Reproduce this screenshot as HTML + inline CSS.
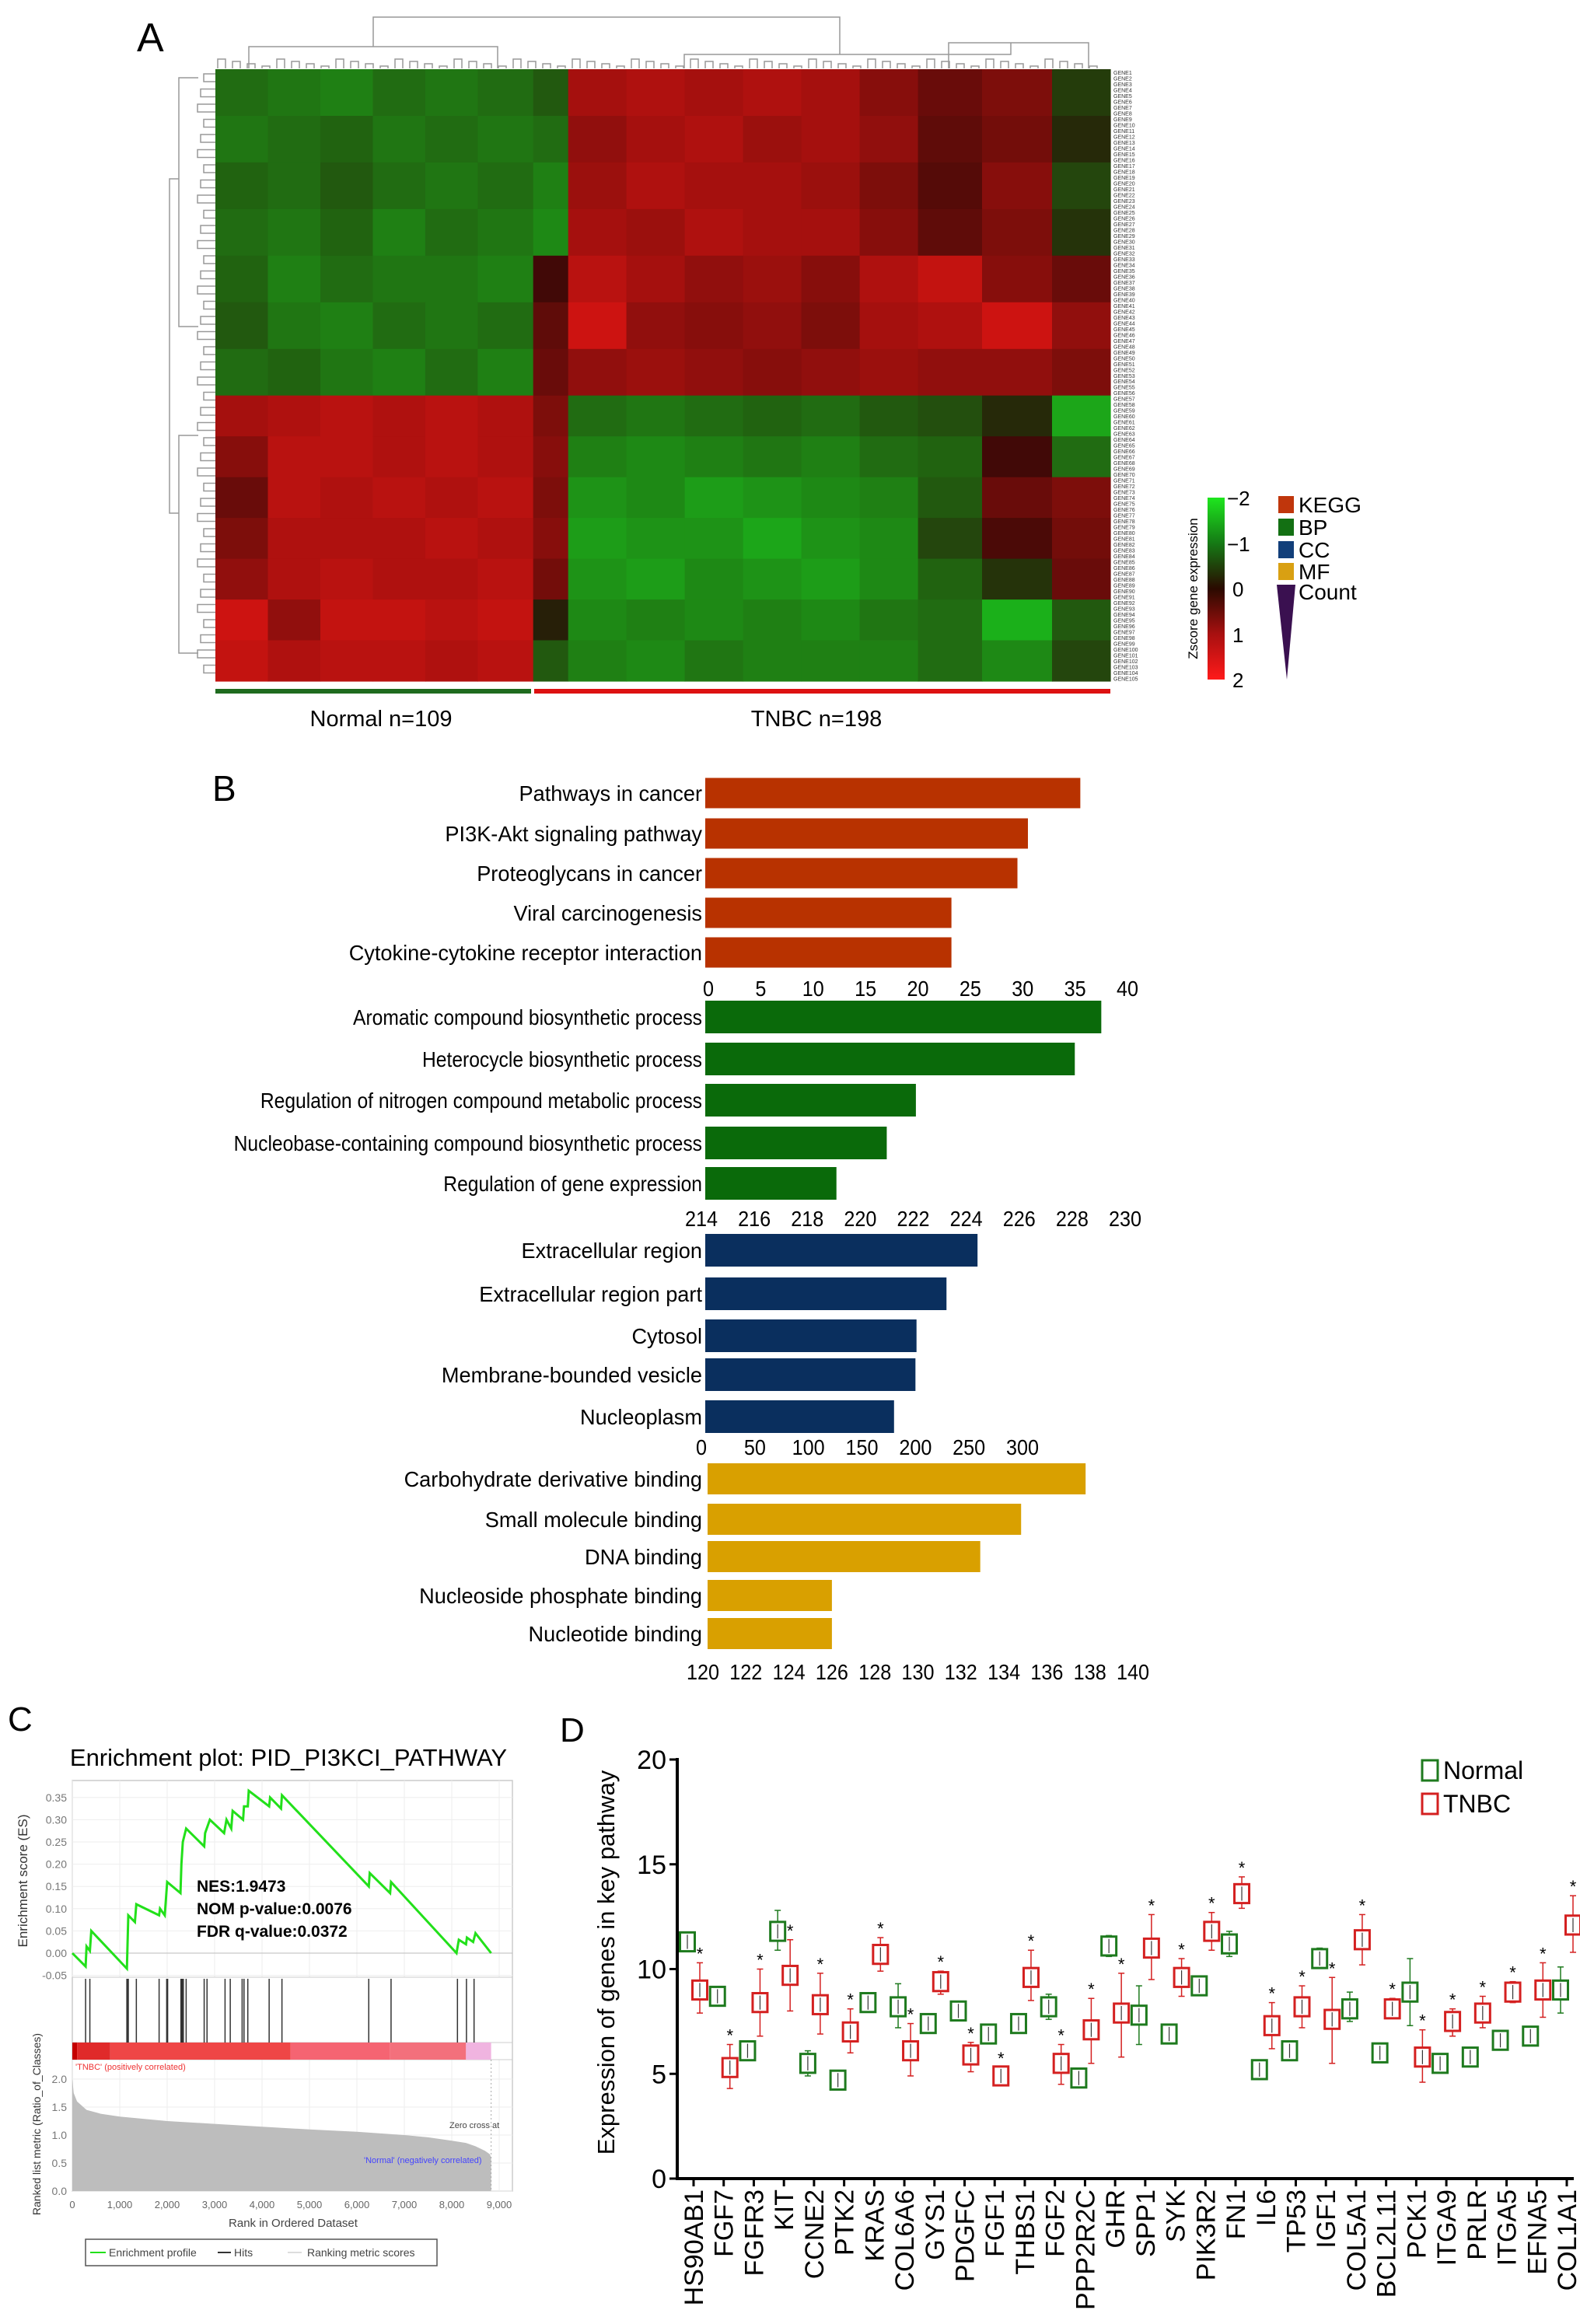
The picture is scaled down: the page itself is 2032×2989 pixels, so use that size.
<!DOCTYPE html>
<html><head><meta charset="utf-8"><title>TNBC figure</title>
<style>
html,body{margin:0;padding:0;background:#fff;}
svg{display:block;font-family:"Liberation Sans",Arial,sans-serif;}
</style></head>
<body>
<svg id="fig" width="2032" height="2989" viewBox="0 0 2032 2989" xmlns="http://www.w3.org/2000/svg">
<rect x="0" y="0" width="2032" height="2989" fill="#fff"/>
<g id="panelA">
  <text x="176" y="66" font-size="52">A</text>
  <g id="dendroTop" stroke="#999" stroke-width="1.5" fill="none"></g>
  <g id="dendroLeft" stroke="#999" stroke-width="1.5" fill="none"></g>
  <g id="heat"></g>
  <g id="geneLbl" font-size="7" fill="#333"></g>
  <rect x="277" y="886" width="406" height="6" fill="#1f6b1f"/>
  <rect x="687" y="886" width="741" height="6" fill="#d11"/>
  <text x="490" y="934" font-size="29" text-anchor="middle">Normal n=109</text>
  <text x="1050" y="934" font-size="29" text-anchor="middle">TNBC n=198</text>
  <defs>
    <linearGradient id="zgrad" x1="0" y1="0" x2="0" y2="1">
      <stop offset="0" stop-color="#1ee61e"/><stop offset="0.25" stop-color="#157a15"/>
      <stop offset="0.5" stop-color="#2a0a00"/><stop offset="0.75" stop-color="#a81010"/>
      <stop offset="1" stop-color="#ff1a1a"/>
    </linearGradient>
  </defs>
  <rect x="1553" y="640" width="22" height="234" fill="url(#zgrad)"/>
  <g font-size="26">
    <text x="1578" y="650">−2</text><text x="1578" y="709">−1</text><text x="1585" y="767">0</text><text x="1585" y="826">1</text><text x="1585" y="884">2</text>
  </g>
  <text transform="translate(1540,757) rotate(-90)" font-size="17" text-anchor="middle">Zscore gene expression</text>
  <g font-size="28">
    <rect x="1644" y="638" width="20" height="22" fill="#c0360c"/><text x="1670" y="659">KEGG</text>
    <rect x="1644" y="667" width="20" height="22" fill="#137013"/><text x="1670" y="688">BP</text>
    <rect x="1644" y="696" width="20" height="22" fill="#123f7a"/><text x="1670" y="717">CC</text>
    <rect x="1644" y="724" width="20" height="22" fill="#d9a012"/><text x="1670" y="745">MF</text>
    <polygon points="1642,752 1666,752 1655,874" fill="#3a1050"/><text x="1670" y="771">Count</text>
  </g>
</g>
<g id="panelB">
  <text x="273" y="1030" font-size="46">B</text>
</g>
<g id="panelC">
  <text x="10" y="2226" font-size="44">C</text>
  <text x="371" y="2271" font-size="31" text-anchor="middle">Enrichment plot: PID_PI3KCI_PATHWAY</text>
</g>
<g id="panelD">
  <text x="720" y="2240" font-size="44">D</text>
</g>
</svg>
<script>
var NS="http://www.w3.org/2000/svg";
function mk(tag,attrs,parent){var e=document.createElementNS(NS,tag);for(var k in attrs)e.setAttribute(k,attrs[k]);parent.appendChild(e);return e;}

var colGroupSizes=[18,18,18,18,18,19,12,20,20,20,20,20,20,22,24,20];
var rowGroupSizes=[8,8,8,8,8,8,8,7,7,7,7,7,7,7];
var zMatrix=[
[-1.0,-1.1,-1.2,-1.0,-1.1,-1.0,-0.8,1.2,1.3,1.2,1.3,1.2,0.9,0.6,0.8,-0.5],
[-1.1,-1.0,-0.9,-1.1,-1.0,-1.1,-1.0,1.0,1.2,1.3,1.1,1.2,1.0,0.5,0.7,-0.3],
[-0.9,-1.0,-0.8,-1.0,-1.1,-1.0,-1.2,1.1,1.3,1.2,1.2,1.1,0.8,0.4,0.9,-0.6],
[-1.0,-1.1,-0.9,-1.2,-1.0,-1.1,-1.3,1.2,1.1,1.3,1.2,1.2,0.9,0.5,0.8,-0.4],
[-0.9,-1.2,-1.0,-1.1,-1.1,-1.2,0.2,1.4,1.2,1.0,1.1,0.9,1.3,1.5,0.9,0.6],
[-0.8,-1.1,-1.2,-1.0,-1.1,-1.0,0.5,1.6,1.0,0.9,1.0,0.8,1.2,1.3,1.6,1.0],
[-1.0,-0.9,-1.1,-1.2,-1.0,-1.2,0.6,1.0,1.1,1.0,0.9,1.0,1.1,1.0,1.0,0.8],
[1.2,1.3,1.4,1.3,1.4,1.3,0.8,-1.0,-1.1,-1.0,-0.9,-1.0,-0.8,-0.7,-0.3,-1.6],
[0.9,1.4,1.4,1.3,1.4,1.3,0.9,-1.2,-1.3,-1.2,-1.1,-1.2,-1.0,-0.9,0.2,-1.0],
[0.6,1.4,1.3,1.4,1.3,1.4,0.8,-1.4,-1.3,-1.5,-1.4,-1.3,-1.2,-0.8,0.6,0.8],
[0.8,1.3,1.3,1.3,1.4,1.3,0.9,-1.5,-1.4,-1.4,-1.6,-1.4,-1.3,-0.6,0.3,0.7],
[1.0,1.3,1.4,1.3,1.3,1.4,0.7,-1.4,-1.5,-1.3,-1.4,-1.5,-1.3,-0.9,-0.4,0.6],
[1.6,1.0,1.5,1.5,1.4,1.5,-0.2,-1.3,-1.2,-1.3,-1.2,-1.3,-1.1,-1.0,-1.7,-0.8],
[1.5,1.3,1.4,1.4,1.3,1.4,-0.8,-1.2,-1.3,-1.1,-1.2,-1.2,-1.2,-1.0,-1.3,-0.6]
];
var keggTerms=["Pathways in cancer","PI3K-Akt signaling pathway","Proteoglycans in cancer","Viral carcinogenesis","Cytokine-cytokine receptor interaction"];
var keggCounts=[35.5,30.5,29.5,23.2,23.2];
var keggTicks=[0,5,10,15,20,25,30,35,40];
var bpTerms=["Aromatic compound biosynthetic process","Heterocycle biosynthetic process","Regulation of nitrogen compound metabolic process","Nucleobase-containing compound biosynthetic process","Regulation of gene expression"];
var bpCounts=[229.1,228.1,222.1,221.0,219.1];
var bpTicks=[214,216,218,220,222,224,226,228,230];
var ccTerms=["Extracellular region","Extracellular region part","Cytosol","Membrane-bounded vesicle","Nucleoplasm"];
var ccCounts=[258,229,201,200,180];
var ccTicks=[0,50,100,150,200,250,300];
var mfTerms=["Carbohydrate derivative binding","Small molecule binding","DNA binding","Nucleoside phosphate binding","Nucleotide binding"];
var mfCounts=[137.8,134.8,132.9,126.0,126.0];
var mfTicks=[120,122,124,126,128,130,132,134,136,138,140];
var esRanks=[0,280,300,370,400,1150,1180,1320,1350,1830,1850,1950,2000,2280,2300,2330,2400,2780,2800,2900,3200,3250,3350,3380,3600,3620,3700,3720,4150,4170,4400,4420,6250,6270,6700,6720,8100,8150,8300,8320,8450,8500,8830];
var esValues=[0,-0.03,0.015,0.005,0.05,-0.035,0.085,0.07,0.11,0.085,0.1,0.085,0.16,0.135,0.2,0.25,0.28,0.24,0.27,0.3,0.27,0.3,0.28,0.32,0.3,0.33,0.33,0.365,0.33,0.35,0.325,0.355,0.15,0.18,0.135,0.16,0.0,0.03,0.02,0.035,0.025,0.045,0.0];
var hitRanks=[280,370,1150,1170,1180,1350,1830,1990,2010,2290,2300,2320,2340,2400,2780,2840,3220,3330,3580,3620,3700,4150,4420,6250,6720,8120,8310,8470];
var metricRanks=[0,30,100,300,600,1000,2000,3000,4000,5000,6000,7000,7500,8000,8300,8500,8700,8800,8830];
var metricValues=[2.0,1.75,1.6,1.45,1.38,1.33,1.25,1.2,1.15,1.1,1.06,1.0,0.96,0.9,0.86,0.8,0.72,0.66,0.6];
var esTicks=[-0.05,0,0.05,0.1,0.15,0.2,0.25,0.3,0.35];
var metricTicks=[0,0.5,1,1.5,2];
var rankTicks=[0,1000,2000,3000,4000,5000,6000,7000,8000,9000];
var genes=["HS90AB1","FGF7","FGFR3","KIT","CCNE2","PTK2","KRAS","COL6A6","GYS1","PDGFC","FGF1","THBS1","FGF2","PPP2R2C","GHR","SPP1","SYK","PIK3R2","FN1","IL6","TP53","IGF1","COL5A1","BCL2L11","PCK1","ITGA9","PRLR","ITGA5","EFNA5","COL1A1"];
var normalMed=[11.3,8.7,6.1,11.8,5.5,4.7,8.4,8.2,7.4,8.0,6.9,7.4,8.2,4.8,11.1,7.8,6.9,9.2,11.2,5.2,6.1,10.5,8.1,6.0,8.9,5.5,5.8,6.6,6.8,9.0];
var normalHi=[11.7,9.0,6.4,12.8,6.1,5.0,8.8,9.3,7.7,8.3,7.2,7.8,8.8,5.1,11.6,9.2,7.2,9.5,11.8,5.4,6.4,11.0,8.9,6.3,10.5,5.8,6.1,6.9,7.1,10.1];
var normalLo=[10.9,8.4,5.8,10.9,4.9,4.4,8.0,7.2,7.1,7.6,6.6,7.0,7.6,4.5,10.6,6.4,6.6,8.9,10.6,4.9,5.8,10.2,7.5,5.7,7.3,5.2,5.5,6.3,6.5,7.9];
var tnbcMed=[9.0,5.3,8.4,9.7,8.3,7.0,10.7,6.1,9.4,5.9,4.9,9.6,5.5,7.1,7.9,11.0,9.6,11.8,13.6,7.3,8.2,7.6,11.4,8.1,5.8,7.5,7.9,8.9,9.0,12.1];
var tnbcHi=[10.3,6.4,10.0,11.4,9.8,8.1,11.5,7.4,9.9,6.5,5.3,10.9,6.4,8.6,9.8,12.6,10.5,12.7,14.4,8.4,9.2,9.6,12.6,8.6,7.1,8.1,8.7,9.4,10.3,13.5];
var tnbcLo=[7.9,4.3,6.8,8.0,6.9,6.0,9.9,4.9,8.8,5.1,4.5,8.5,4.5,5.5,5.8,9.5,8.7,10.9,12.9,6.2,7.2,5.5,10.2,7.7,4.6,6.8,7.2,8.4,7.7,10.8];
var dTicks=[0,5,10,15,20];

(function(){
  var heat=document.getElementById('heat');
  var X0=277,X1=1428,Y0=89,Y1=876;
  var nS=colGroupSizes.reduce(function(a,b){return a+b;},0);
  var nG=rowGroupSizes.reduce(function(a,b){return a+b;},0);
  function xs(i){return X0+(X1-X0)*i/nS;}
  function ys(i){return Y0+(Y1-Y0)*i/nG;}
  function zcol(z){
    z=Math.max(-2,Math.min(2,z));
    var r,g,b;
    if(z<0){var t=-z/2;r=Math.round(40*(1-t)+25*t);g=Math.round(12+(215-12)*t*0.95);b=Math.round(5+25*t);}
    else{var t2=z/2;r=Math.round(45+(245-45)*t2);g=Math.round(8+14*t2);b=Math.round(5+15*t2);}
    return 'rgb('+r+','+g+','+b+')';
  }
  var rs=0;
  for(var r=0;r<rowGroupSizes.length;r++){
    var cs=0;
    for(var c=0;c<colGroupSizes.length;c++){
      var cell=mk('rect',{x:xs(cs).toFixed(1),y:ys(rs).toFixed(1),width:(xs(cs+colGroupSizes[c])-xs(cs)+0.6).toFixed(1),height:(ys(rs+rowGroupSizes[r])-ys(rs)+0.6).toFixed(1),fill:zcol(zMatrix[r][c])},heat);
      
      
      cs+=colGroupSizes[c];
    }
    rs+=rowGroupSizes[r];
  }
  var gl=document.getElementById('geneLbl');
  for(var i=0;i<nG;i++){
    var t=mk('text',{x:1432,y:(ys(i)+7).toFixed(1)},gl);
    t.textContent='GENE'+(i+1);
    
    
  }
  var dt=document.getElementById('dendroTop');
  var p="M480,60 V22 H1080 V70 M480,60 H320 V88 M480,60 H640 V88 M1080,70 H880 V88 M1080,70 H1300 V55 M1300,55 H1220 V88 M1300,55 H1400 V88";
  for(var k=0;k<60;k++){var xx=280+k*19;p+=" M"+xx+",88 V"+(76+(k%4)*3)+" H"+(xx+10)+" V88";}
  mk('path',{d:p},dt);
  var dl=document.getElementById('dendroLeft');
  var q="M230,230 H218 V660 H230 M230,230 V100 H255 M230,230 V420 H255 M230,660 V560 H255 M230,660 V840 H255";
  for(var k2=0;k2<40;k2++){var yy=95+k2*19.5;q+=" M277,"+yy+" H"+(262-(k2%3)*4)+" V"+(yy+10)+" H277";}
  mk('path',{d:q},dl);
})();

(function(){
  var g=document.getElementById('panelB');
  function block(terms,counts,ticks,color,x0,x1,v0,v1,barLeft,centers,barH,tickY,squeeze,name){
    function xs(v){return x0+(v-v0)*(x1-x0)/(v1-v0);}
    for(var i=0;i<terms.length;i++){
      var b=mk('rect',{x:barLeft,y:centers[i]-barH/2,width:Math.max(0,xs(counts[i])-barLeft),height:barH,fill:color},g);
      
      
      var t=mk('text',{x:0,y:0,'font-size':28,'text-anchor':'end',transform:'translate(903,'+(centers[i]+10)+') scale('+squeeze+',1)'},g);
      t.textContent=terms[i];
      
      
    }
    for(var j=0;j<ticks.length;j++){
      var tk=mk('text',{x:0,y:0,'font-size':28,'text-anchor':'middle',transform:'translate('+xs(ticks[j])+','+tickY+') scale(0.9,1)'},g);
      tk.textContent=ticks[j];
      
      
    }
  }
  block(keggTerms,keggCounts,keggTicks,'#b83200',911,1450,0,40,907,[1020,1072,1123,1174,1225],39,1281,0.97,'kegg');
  block(bpTerms,bpCounts,bpTicks,'#0a6a0a',902,1447,214,230,907,[1308,1362,1415,1470,1522],42,1577,0.88,'bp');
  block(ccTerms,ccCounts,ccTicks,'#0a2f5e',902,1315,0,300,907,[1608,1664,1718,1768,1822],42,1871,0.97,'cc');
  block(mfTerms,mfCounts,mfTicks,'#d9a000',904,1457,120,140,910,[1902,1954,2002,2052,2101],40,2160,0.97,'mf');
})();

(function(){
  var g=document.getElementById('panelC');
  var L=93,R=659;
  function xr(r){return 93+r*(642-93)/9000;}
  function yes(v){return 2512-v*572;}
  function ym(v){return 2818-v*72;}
  mk('rect',{x:L,y:2290,width:R-L,height:528,fill:'none',stroke:'#ccc','stroke-width':1.5},g);
  for(var i=0;i<rankTicks.length;i++){
    mk('line',{x1:xr(rankTicks[i]),x2:xr(rankTicks[i]),y1:2290,y2:2543,stroke:'#eee'},g);
    mk('line',{x1:xr(rankTicks[i]),x2:xr(rankTicks[i]),y1:2649,y2:2818,stroke:'#eee'},g);
    var t=mk('text',{x:xr(rankTicks[i]),y:2840,'font-size':13,'text-anchor':'middle',fill:'#666'},g);
    t.textContent=rankTicks[i].toLocaleString('en-US');
    
    
  }
  for(var j=0;j<esTicks.length;j++){
    mk('line',{x1:L,x2:R,y1:yes(esTicks[j]),y2:yes(esTicks[j]),stroke:'#eee'},g);
    var te=mk('text',{x:86,y:yes(esTicks[j])+5,'font-size':14,'text-anchor':'end',fill:'#777'},g);
    te.textContent=esTicks[j].toFixed(2);
    
    
  }
  for(var m=0;m<metricTicks.length;m++){
    mk('line',{x1:L,x2:R,y1:ym(metricTicks[m]),y2:ym(metricTicks[m]),stroke:'#eee'},g);
    var tm=mk('text',{x:86,y:ym(metricTicks[m])+5,'font-size':14,'text-anchor':'end',fill:'#777'},g);
    tm.textContent=metricTicks[m].toFixed(1);
    
    
  }
  mk('line',{x1:L,x2:R,y1:2543,y2:2543,stroke:'#ccc'},g);
  mk('line',{x1:L,x2:R,y1:2627,y2:2627,stroke:'#ccc'},g);
  mk('line',{x1:L,x2:R,y1:2649,y2:2649,stroke:'#ccc'},g);
  mk('line',{x1:L,x2:R,y1:yes(0),y2:yes(0),stroke:'#bbb'},g);
  var d='M'+xr(metricRanks[0])+','+ym(0);
  for(var k=0;k<metricRanks.length;k++)d+=' L'+xr(metricRanks[k]).toFixed(1)+','+ym(metricValues[k]).toFixed(1);
  d+=' L'+xr(metricRanks[metricRanks.length-1])+','+ym(0)+' Z';
  var area=mk('path',{d:d,fill:'#bdbdbd'},g);
  
  
  mk('line',{x1:xr(8830),x2:xr(8830),y1:2649,y2:2818,stroke:'#aaa','stroke-dasharray':'2,3'},g);
  var segs=[[0,100,'#c40000'],[100,800,'#e02a2a'],[800,4600,'#ef4646'],[4600,6700,'#f56472'],[6700,8300,'#f3707c'],[8300,8830,'#f0b4e0']];
  for(var s=0;s<segs.length;s++){
    var sr=mk('rect',{x:xr(segs[s][0]),y:2627,width:xr(segs[s][1])-xr(segs[s][0]),height:22,fill:segs[s][2]},g);
    
    
  }
  for(var h=0;h<hitRanks.length;h++){
    var hl=mk('line',{x1:xr(hitRanks[h]),x2:xr(hitRanks[h]),y1:2545,y2:2627,stroke:'#333','stroke-width':1.5},g);
    
    
  }
  var pts=[];
  for(var e=0;e<esRanks.length;e++)pts.push(xr(esRanks[e]).toFixed(1)+','+yes(esValues[e]).toFixed(1));
  var pl=mk('polyline',{points:pts.join(' '),fill:'none',stroke:'#22e01a','stroke-width':3},g);
  
  
  function tx(x,y,s,attrs,name){var t=mk('text',Object.assign({x:x,y:y},attrs),g);t.textContent=s;return t;}
  tx(253,2433,'NES:1.9473',{'font-size':21,'font-weight':'bold'},'nes-stat');
  tx(253,2462,'NOM p-value:0.0076',{'font-size':21,'font-weight':'bold'},'nom-p-stat');
  tx(253,2491,'FDR q-value:0.0372',{'font-size':21,'font-weight':'bold'},'fdr-q-stat');
  tx(97,2662,"'TNBC' (positively correlated)",{'font-size':11,fill:'#e33'},'tnbc-correlation-note');
  tx(468,2782,"'Normal' (negatively correlated)",{'font-size':11,fill:'#44f'},'normal-correlation-note');
  tx(578,2737,'Zero cross at',{'font-size':11,fill:'#444'},'zero-cross-note');
  tx(377,2864,'Rank in Ordered Dataset',{'font-size':15,'text-anchor':'middle',fill:'#444'},'rank-axis-title');
  tx(0,0,'Enrichment score (ES)',{'font-size':17,'text-anchor':'middle',fill:'#333',transform:'translate(35,2419) rotate(-90)'},'es-axis-title');
  tx(0,0,'Ranked list metric (Ratio_of_Classes)',{'font-size':14,'text-anchor':'middle',fill:'#333',transform:'translate(52,2732) rotate(-90)'},'metric-axis-title');
  var lb=mk('rect',{x:110,y:2880,width:452,height:34,fill:'#fff',stroke:'#555','stroke-width':1.5},g);
  
  
  mk('line',{x1:116,x2:136,y1:2897,y2:2897,stroke:'#22e01a','stroke-width':2},g);
  tx(140,2902,'Enrichment profile',{'font-size':14,fill:'#444'},'legend-enrichment-profile');
  mk('line',{x1:280,x2:297,y1:2897,y2:2897,stroke:'#333','stroke-width':2},g);
  tx(301,2902,'Hits',{'font-size':14,fill:'#444'},'legend-hits');
  mk('line',{x1:370,x2:388,y1:2897,y2:2897,stroke:'#ddd','stroke-width':2},g);
  tx(395,2902,'Ranking metric scores',{'font-size':14,fill:'#444'},'legend-ranking-metric');
})();

(function(){
  var g=document.getElementById('panelD');
  var AX=871,AY=2802,TOP=2263;
  function yv(v){return AY-(v/20)*(AY-TOP);}
  function xg(i){return 892+i*(2015-892)/(genes.length-1);}
  mk('line',{x1:AX,x2:AX,y1:TOP-2,y2:AY+2,stroke:'#000','stroke-width':4},g);
  mk('line',{x1:AX-2,x2:2024,y1:AY,y2:AY,stroke:'#000','stroke-width':4},g);
  for(var t=0;t<dTicks.length;t++){
    mk('line',{x1:AX-10,x2:AX,y1:yv(dTicks[t]),y2:yv(dTicks[t]),stroke:'#000','stroke-width':3},g);
    var tl=mk('text',{x:AX-14,y:yv(dTicks[t])+12,'font-size':34,'text-anchor':'end'},g);
    tl.textContent=dTicks[t];
    
    
  }
  var yt=mk('text',{transform:'translate(790,2524) rotate(-90)','font-size':31,'text-anchor':'middle'},g);
  yt.textContent='Expression of genes in key pathway';
  
  
  function box(x,med,lo,hi,col,name){
    var w=19,hh=0.45;
    mk('line',{x1:x,x2:x,y1:yv(hi),y2:yv(lo),stroke:col,'stroke-width':1.5},g);
    mk('line',{x1:x-4,x2:x+4,y1:yv(hi),y2:yv(hi),stroke:col,'stroke-width':1.5},g);
    mk('line',{x1:x-4,x2:x+4,y1:yv(lo),y2:yv(lo),stroke:col,'stroke-width':1.5},g);
    var r=mk('rect',{x:x-w/2,y:yv(med+hh),width:w,height:yv(med-hh)-yv(med+hh),fill:'#fff',stroke:col,'stroke-width':3},g);
    
    
    mk('line',{x1:x,x2:x,y1:yv(med+hh)+3,y2:yv(med-hh)-3,stroke:'#333','stroke-width':1.2},g);
  }
  for(var i=0;i<genes.length;i++){
    var x=xg(i);
    mk('line',{x1:x,x2:x,y1:AY,y2:AY+10,stroke:'#000','stroke-width':3},g);
    var gl=mk('text',{transform:'translate('+(x+12)+','+(AY+14)+') rotate(-90)','font-size':34,'text-anchor':'end'},g);
    gl.textContent=genes[i];
    
    
    box(x-8,normalMed[i],normalLo[i],normalHi[i],'#1e7a1e','normal-box');
    box(x+8,tnbcMed[i],tnbcLo[i],tnbcHi[i],'#d42020','tnbc-box');
    var st=mk('text',{x:x+8,y:yv(tnbcHi[i])-4,'font-size':22,'text-anchor':'middle'},g);
    st.textContent='*';
    
    
  }
  var l1=mk('rect',{x:1829,y:2264,width:20,height:26,fill:'none',stroke:'#1e7a1e','stroke-width':3},g);
  
  
  var lt1=mk('text',{x:1856,y:2288,'font-size':32},g);
  lt1.textContent='Normal';
  
  
  var l2=mk('rect',{x:1829,y:2307,width:20,height:26,fill:'none',stroke:'#d42020','stroke-width':3},g);
  
  
  var lt2=mk('text',{x:1856,y:2331,'font-size':32},g);
  lt2.textContent='TNBC';
  
  
})();
</script>
</body></html>
